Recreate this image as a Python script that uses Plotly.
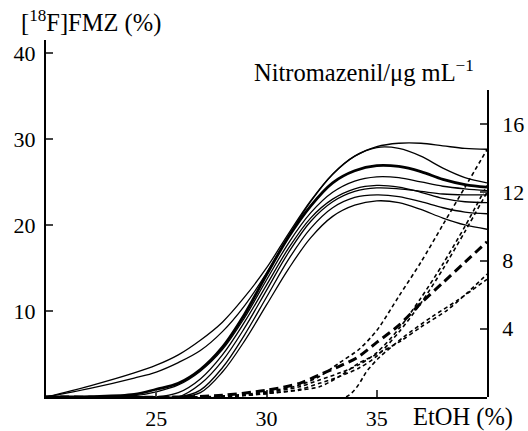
import plotly.graph_objects as go

# ---------------- data ----------------
etoh = [20, 22, 24, 25, 26, 27, 28, 29, 30, 31, 32, 33, 34, 35, 36, 37, 38, 39, 40]

fmz_1 = [0, 1.3, 2.8, 3.7, 4.9, 6.6, 8.7, 11.6, 15.0, 19.0, 22.8, 25.9, 28.0, 29.1, 29.5, 29.5, 29.2, 28.9, 28.8]
fmz_2 = [0, 1.0, 2.2, 2.9, 4.0, 5.4, 7.6, 10.6, 14.4, 18.7, 22.7, 25.9, 28.0, 29.0, 28.9, 28.0, 26.6, 25.5, 24.9]
fmz_3 = [0, 0.05, 0.3, 0.9, 1.6, 3.2, 5.8, 9.6, 14.2, 18.6, 22.2, 24.9, 26.3, 26.9, 26.8, 26.2, 25.3, 24.7, 24.4]
fmz_4 = [0, 0, 0.15, 0.6, 1.4, 3.0, 5.5, 9.2, 13.6, 17.9, 21.4, 23.8, 25.1, 25.6, 25.5, 25.0, 24.5, 24.2, 24.0]
fmz_5 = [0, 0, 0, 0, 0.5, 2.1, 4.9, 8.7, 13.0, 17.3, 20.8, 23.0, 24.2, 24.6, 24.4, 23.8, 23.1, 22.7, 22.6]
fmz_6 = [0, 0, 0, 0, 0, 1.5, 4.2, 8.0, 12.4, 16.8, 20.4, 22.7, 23.9, 24.3, 24.2, 23.9, 23.6, 23.5, 23.5]
fmz_7 = [0, 0, 0, 0, 0, 0.8, 3.4, 7.2, 11.6, 16.0, 19.6, 22.0, 23.2, 23.5, 23.3, 22.7, 22.0, 21.5, 21.3]
fmz_8 = [0, 0, 0, 0, 0, 0.5, 2.9, 6.5, 10.7, 14.9, 18.5, 21.0, 22.3, 22.8, 22.6, 21.8, 20.8, 20.0, 19.5]

nitro_x1 = [20, 26, 28, 30, 31.5, 32.4, 33.3, 34.1, 35, 36, 37, 38, 39, 40]
nitro_1 = [0, 0, 0.1, 0.4, 0.8, 1.3, 1.8, 2.3, 3.2, 4.2, 5.5, 6.7, 7.9, 9.1]

nitro_x2 = [20, 27, 29, 30, 31.5, 32.4, 33.3, 34.2, 35, 36, 37, 38, 39, 40]
nitro_2 = [0, 0, 0.15, 0.3, 0.7, 1.2, 2.0, 2.8, 3.9, 5.9, 7.9, 10.1, 12.3, 14.5]
nitro_3 = [0, 0, 0.1, 0.25, 0.6, 1.0, 1.4, 1.9, 2.6, 4.0, 5.8, 7.8, 10.0, 12.4]
nitro_4 = [0, 0, 0.1, 0.2, 0.45, 0.8, 1.2, 1.7, 2.4, 3.8, 5.5, 7.5, 9.7, 12.0]

nitro_x5 = [20, 33.6, 34.6, 35.1, 36.2, 37.5, 38.7, 40]
nitro_5 = [0, 0, 1.6, 2.3, 3.5, 4.7, 5.7, 6.9]

nitro_x6 = [20, 28, 30, 31.5, 32.4, 33.3, 34.2, 35, 36.1, 37, 38.2, 39.1, 40]
nitro_6 = [0, 0, 0.2, 0.4, 0.6, 1.2, 2.0, 2.5, 3.3, 4.1, 5.1, 6.1, 7.2]

x_ticks = [25, 30, 35]
y_ticks = [10, 20, 30, 40]
y2_ticks = [4, 8, 12, 16]

# ---------------- figure ----------------
FONT = "Liberation Serif, Times New Roman, serif"
fig = go.Figure()

solid = [fmz_1, fmz_2, fmz_3, fmz_4, fmz_5, fmz_6, fmz_7, fmz_8]
for i, ys in enumerate(solid):
    fig.add_trace(go.Scatter(
        x=etoh, y=ys, mode="lines", yaxis="y",
        line=dict(color="black", width=2.8 if i == 2 else 1.3, shape="spline", smoothing=1.0),
        showlegend=False, hoverinfo="skip"))

dashed = [
    (nitro_x1, nitro_1, 3.0, "9px,5px"),
    (nitro_x2, nitro_2, 1.6, "4px,3px"),
    (nitro_x2, nitro_3, 1.6, "4px,3px"),
    (nitro_x2, nitro_4, 1.6, "4px,3px"),
    (nitro_x5, nitro_5, 1.6, "4px,3px"),
    (nitro_x6, nitro_6, 1.6, "4px,3px"),
]
for xs, ys, w, d in dashed:
    fig.add_trace(go.Scatter(
        x=xs, y=ys, mode="lines", yaxis="y2",
        line=dict(color="black", width=w, dash=d, shape="spline", smoothing=0.8),
        showlegend=False, hoverinfo="skip"))

L, R, T, B = 46, 41, 40, 34
W, H = 528, 431
pw, ph = W - L - R, H - T - B

def px(xp):
    return (xp - L) / pw

def py(yp):
    return (H - B - yp) / ph

axis_font = dict(family=FONT, size=22, color="black")
title_font = dict(family=FONT, size=24.5, color="black")

fig.update_layout(
    width=W, height=H,
    margin=dict(l=L, r=R, t=T, b=B, pad=0, autoexpand=False),
    paper_bgcolor="white", plot_bgcolor="rgba(0,0,0,0)",
    font=axis_font,
    xaxis=dict(range=[20, 40], domain=[0, 1], anchor="y", automargin=False,
               tickvals=x_ticks, ticks="inside", ticklen=7, tickwidth=1.5,
               ticklabelstandoff=1,
               showline=True, linecolor="black", linewidth=2,
               showgrid=False, zeroline=False, tickfont=axis_font),
    yaxis=dict(range=[0, 41.5], domain=[0, 1], anchor="x", automargin=False,
               tickvals=y_ticks, ticks="inside", ticklen=7, tickwidth=1.5,
               ticklabelstandoff=4,
               showline=True, linecolor="black", linewidth=2,
               showgrid=False, zeroline=False, tickfont=axis_font),
    yaxis2=dict(range=[0, 18], domain=[0, (H - B - 90) / ph], anchor="x", side="right",
                automargin=False,
                tickvals=y2_ticks, ticks="inside", ticklen=7, tickwidth=1.5,
                ticklabelstandoff=9,
                showline=True, linecolor="black", linewidth=1.5,
                showgrid=False, zeroline=False, tickfont=axis_font),
    annotations=[
        dict(text="[<sup>18</sup>F]FMZ (%)", xref="paper", yref="paper",
             x=px(19), y=py(22), xanchor="left", yanchor="middle", showarrow=False,
             font=title_font),
        dict(text="Nitromazenil/μg mL<sup>−1</sup>", xref="paper", yref="paper",
             x=px(252), y=py(71), xanchor="left", yanchor="middle", showarrow=False,
             font=title_font),
        dict(text="EtOH (%)", xref="paper", yref="paper",
             x=px(411), y=py(417), xanchor="left", yanchor="middle", showarrow=False,
             font=title_font),
    ],
)

fig.write_html("out.html", config={"displayModeBar": False},
               post_script="document.body.style.margin='0';")
